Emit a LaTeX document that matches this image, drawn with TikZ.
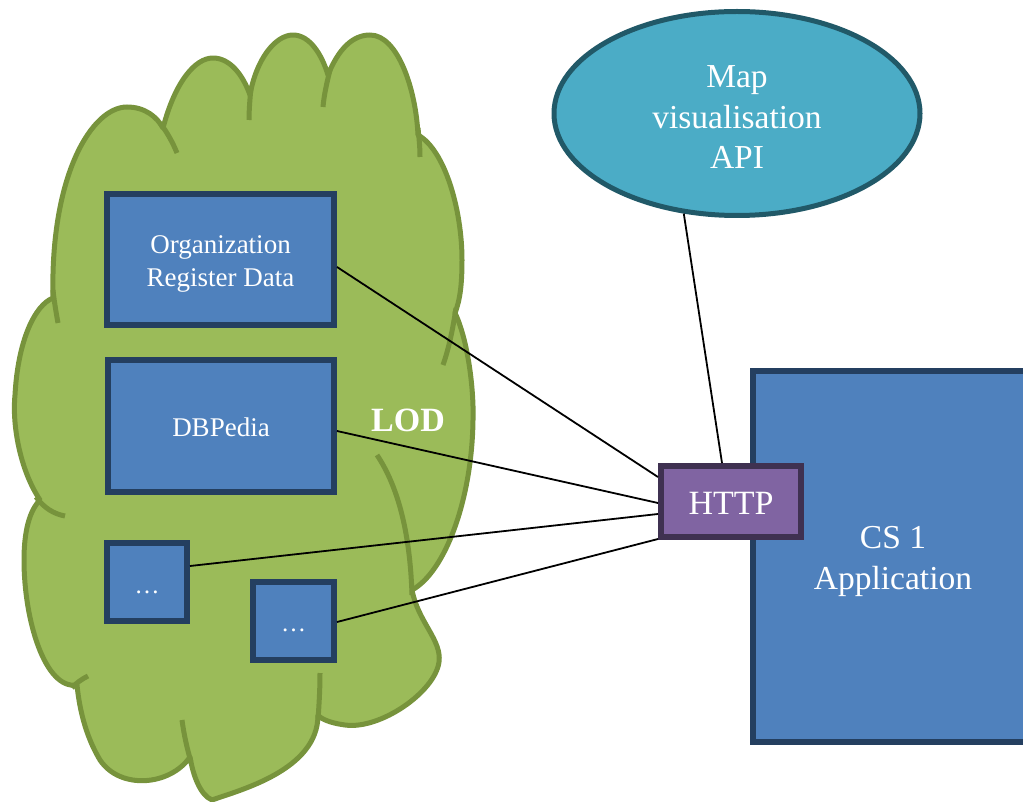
\documentclass[tikz,border=0pt]{standalone}
\usepackage{fontspec}
\setmainfont{Liberation Serif}
\usetikzlibrary{shapes.geometric}
\definecolor{boxfill}{HTML}{4F81BD}
\definecolor{boxline}{HTML}{243F60}
\definecolor{cloudfill}{HTML}{9BBB59}
\definecolor{cloudline}{HTML}{77933C}
\definecolor{httpfill}{HTML}{8064A2}
\definecolor{httpline}{HTML}{3F3151}
\definecolor{apifill}{HTML}{4BACC6}
\definecolor{apiline}{HTML}{215968}
\begin{document}
\begin{tikzpicture}[x=1pt,y=-1pt,
  box/.style={draw=boxline, fill=boxfill, line width=6pt, inner sep=0pt},
  label text/.style={text=white, align=center, inner sep=0pt},
  cloudedge/.style={draw=cloudline, line width=5pt, line join=round},
  link/.style={line width=1.8pt, black},
  txtA/.style={font=\fontsize{27}{33}\selectfont},
  txtB/.style={font=\fontsize{33.5}{40.5}\selectfont},
  dots/.style={font=\fontsize{25}{30}\selectfont}]
\useasboundingbox (0,0) rectangle (1023,802);
\clip (0,0) rectangle (1023,802);

% LOD cloud: filled outline
\path[fill=cloudfill, cloudedge]
  (53,298) .. controls (50,175) and (92,107) .. (127,107)
           .. controls (145,107) and (157,117) .. (163,128)
           .. controls (175,82) and (195,58) .. (213,58)
           .. controls (230,58) and (243,75) .. (250,95)
           .. controls (256,60) and (275,35) .. (293,35)
           .. controls (310,35) and (322,55) .. (328,75)
           .. controls (338,50) and (352,35) .. (370,35)
           .. controls (398,35) and (416,90) .. (418,135)
           .. controls (445,150) and (462,210) .. (462,260)
           .. controls (462,285) and (460,300) .. (455,313)
           .. controls (468,340) and (474,390) .. (473,420)
           .. controls (472,500) and (445,572) .. (412,590)
           .. controls (418,622) and (442,640) .. (439,662)
           .. controls (435,692) and (380,730) .. (345,725)
           .. controls (330,723) and (321,719) .. (318,715)
           .. controls (318,770) and (240,790) .. (212,800)
           .. controls (200,795) and (193,775) .. (190,757)
           .. controls (170,786) and (120,790) .. (100,760)
           .. controls (88,740) and (80,715) .. (77,685)
           .. controls (45,690) and (24,620) .. (24,560)
           .. controls (24,530) and (30,510) .. (40,500)
           .. controls (20,470) and (12,425) .. (15,395)
           .. controls (18,340) and (35,305) .. (53,298) -- cycle;

% LOD cloud: inner strokes where the lobes overlap
\draw[cloudedge, line cap=butt]
  (53,290) .. controls (54,300) and (56,312) .. (58,323);
\draw[cloudedge, line cap=butt]
  (160,123) .. controls (167,132) and (173,143) .. (177,153);
\draw[cloudedge, line cap=butt]
  (251,88) .. controls (250,98) and (249,110) .. (249,120);
\draw[cloudedge, line cap=butt]
  (330,70) .. controls (327,82) and (324,95) .. (323,107);
\draw[cloudedge, line cap=butt]
  (418,128) .. controls (419,138) and (420,147) .. (420,157);
\draw[cloudedge, line cap=butt]
  (456,308) .. controls (453,328) and (449,348) .. (443,365);
\draw[cloudedge, line cap=butt]
  (377,455) .. controls (397,485) and (410,530) .. (412,595);
\draw[cloudedge, line cap=butt]
  (318,720) .. controls (319,705) and (320,690) .. (320,673);
\draw[cloudedge, line cap=butt]
  (191,762) .. controls (187,748) and (184,735) .. (182,720);
\draw[cloudedge, line cap=butt]
  (72,688) .. controls (76,683) and (82,679) .. (88,676);
\draw[cloudedge, line cap=butt]
  (36,497) .. controls (44,508) and (54,514) .. (65,516);

\node[text=white, font=\bfseries\fontsize{34}{40}\selectfont] (lod) at (408,420) {LOD};

% data sources
\node[box, minimum width=227pt, minimum height=131pt] (org) at (220.5,259.5) {};
\node[label text, txtA] (orgtext) at ([yshift=-4pt]org.center) {Organization\\Register Data};
\node[box, minimum width=226pt, minimum height=132pt] (dbp) at (221,426) {};
\node[label text, txtA] (dbptext) at ([yshift=-1pt]dbp.center) {DBPedia};
\node[box, minimum width=80pt, minimum height=78pt] (more1) at (147,582) {};
\node[label text, dots] (more1text) at ([yshift=-10pt]more1.center) {…};
\node[box, minimum width=81pt, minimum height=78pt] (more2) at (293.5,621) {};
\node[label text, dots] (more2text) at ([yshift=-9pt]more2.center) {…};

% application side
\node[box, minimum width=280pt, minimum height=371pt] (app) at (893,556.5) {};
\node[label text, txtB] (apptext) at ([yshift=-5pt]app.center) {CS 1\\Application};
\node[draw=httpline, fill=httpfill, line width=6pt, inner sep=0pt,
  minimum width=140pt, minimum height=71pt] (http) at (731,501.5) {};
\node[label text, font=\fontsize{34}{40}\selectfont] (httptext)
  at ([yshift=-2pt]http.center) {HTTP};
\node[ellipse, draw=apiline, fill=apifill, line width=5pt, inner sep=0pt,
  minimum width=366pt, minimum height=204pt] (api) at (737,113.5) {};
\node[label text, txtB] (apitext) at ([yshift=-4pt]api.center) {Map\\visualisation\\API};

% connectors
\draw[link] ([yshift=-7.5pt]org.east) -- ([yshift=24.5pt]http.west);
\draw[link] ([yshift=-5pt]dbp.east) -- ([yshift=-1.5pt]http.west);
\draw[link] ([yshift=16pt]more1.east) -- ([yshift=-12.5pt]http.west);
\draw[link] ([yshift=-1pt]more2.east) -- ([yshift=1pt]http.south west);
\draw[link] (api.242.5) -- ([xshift=-9pt]http.north);
\end{tikzpicture}
\end{document}
